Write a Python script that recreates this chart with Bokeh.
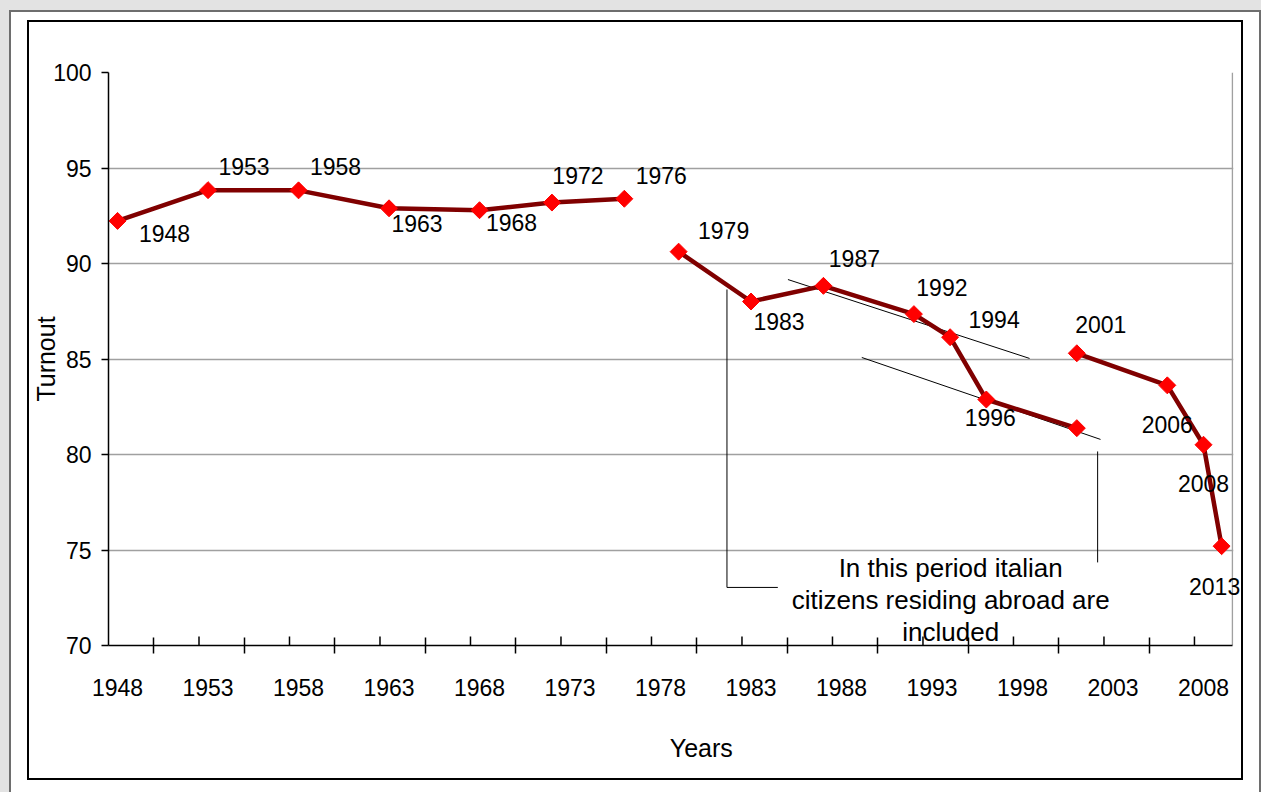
import math
from bokeh.plotting import figure
from bokeh.models import (ColumnDataSource, LabelSet, Label, BoxAnnotation,
                          FixedTicker, Range1d, LinearAxis)
from bokeh.core.properties import value
from bokeh.embed import file_html
from bokeh.resources import INLINE

# ---------------- data ----------------
# Series 1: 1948-1976
x_pos_1 = [1948, 1953, 1958, 1963, 1968, 1972, 1976]
turnout_1 = [92.23, 93.84, 93.83, 92.89, 92.79, 93.19, 93.39]
labels_1 = ["1948", "1953", "1958", "1963", "1968", "1972", "1976"]

# Series 2: 1979-2001
x_pos_2 = [1979, 1983, 1987, 1992, 1994, 1996, 2001]
turnout_2 = [90.62, 88.01, 88.83, 87.35, 86.14, 82.88, 81.38]
labels_2 = ["1979", "1983", "1987", "1992", "1994", "1996", ""]

# Series 3: 2001-2013 (the 2013 election sits in the chart's last slot)
x_pos_3 = [2001, 2006, 2008, 2009]
turnout_3 = [85.3, 83.62, 80.51, 75.2]
labels_3 = ["2001", "2006", "2008", "2013"]

# axis ticks
x_label_ticks = [1948, 1953, 1958, 1963, 1968, 1973, 1978, 1983, 1988, 1993, 1998, 2003, 2008]
x_cross_ticks = [1950, 1955, 1960, 1965, 1970, 1975, 1980, 1985, 1990, 1995, 2000, 2005]
x_inner_ticks = [1952.5, 1957.5, 1962.5, 1967.5, 1972.5, 1977.5, 1982.5, 1987.5,
                 1992.5, 1997.5, 2002.5, 2007.5]
y_ticks = [70, 75, 80, 85, 90, 95, 100]

note_lines = ["In this period italian", "citizens residing abroad are", "included"]

# ---------------- style / layout ----------------
FONT = "Liberation Sans"
NUM_SIZE = "23px"
LINE_COLOR = "#800000"
MARK_COLOR = "#ff0000"
X_START, X_AXIS_END, X_END = 1947.5, 2009.6, 2010.32
Y_MIN, Y_MAX = 70, 100
INNER_TICK_LEN = 0.47   # in turnout units (about 9 px)
YEARS_TITLE_SPAN = (1951.08, 2009.6)
YEARS_PAD = "\u00a0" * 7   # nudges the centred "Years" title to the right

# label offsets in screen px (dx right, dy down) for each series point
dxdy_1 = [(47, 13), (36, -24), (37, -24), (28, 15), (32, 12), (26, -27), (37, -23)]
dxdy_2 = [(45, -21), (28, 20), (31, -27), (28, -27), (44, -18), (4, 18), (0, 0)]
dxdy_3 = [(24, -29), (0, 39), (0, 39), (-7, 40)]

p = figure(width=1216, height=760, output_backend="svg", toolbar_location=None,
           x_range=Range1d(X_START, X_END), y_range=Range1d(Y_MIN, Y_MAX),
           min_border_left=78, min_border_right=0, min_border_top=50,
           min_border_bottom=137, background_fill_color="white",
           border_fill_color="white", outline_line_color=None,
           margin=(20, 0, 0, 27))
p.styles = {"border": "2px solid black",
            "box-shadow": "0px 8px 0 16px #ffffff, 0px 8px 0 18px #6e6e6e, -3px 4px 0 24px #e3e3e3"}

# grid (horizontal lines + right-hand plot-area border)
p.ygrid.ticker = FixedTicker(ticks=y_ticks)
p.ygrid.grid_line_color = "#a0a0a0"
p.ygrid.grid_line_width = 1.5
p.xgrid.ticker = FixedTicker(ticks=[X_AXIS_END])
p.xgrid.grid_line_color = "#a0a0a0"
p.xgrid.grid_line_width = 1.5
# blank strip right of the plot-area border (room for the last label)
p.add_layout(BoxAnnotation(left=X_AXIS_END + 0.045, right=X_END,
                           fill_color="white", fill_alpha=1.0,
                           line_color=None, level="underlay"))

# y axis
ya = p.yaxis[0]
ya.ticker = FixedTicker(ticks=y_ticks)
ya.major_tick_out = 7
ya.major_tick_in = 0
ya.minor_tick_out = 0
ya.minor_tick_in = 0
ya.axis_line_color = "black"
ya.axis_line_width = 1.5
ya.major_tick_line_color = "black"
ya.major_tick_line_width = 1.5
ya.major_label_text_font = FONT
ya.major_label_text_font_size = NUM_SIZE
ya.major_label_text_color = "black"
ya.major_label_standoff = 10
ya.axis_label = "Turnout"
ya.axis_label_text_font = FONT
ya.axis_label_text_font_size = "25px"
ya.axis_label_text_font_style = "normal"
ya.axis_label_text_color = "black"
ya.axis_label_standoff = -10

# x axis: year labels (no mark), crossing ticks as minor ticks
xa = p.xaxis[0]
xa.ticker = FixedTicker(ticks=x_label_ticks, minor_ticks=x_cross_ticks)
xa.bounds = (X_START, X_AXIS_END)
xa.axis_line_color = "black"
xa.axis_line_width = 1.5
xa.major_tick_in = 0
xa.major_tick_out = 0
xa.major_tick_line_color = None
xa.minor_tick_in = 8
xa.minor_tick_out = 8
xa.minor_tick_line_color = "black"
xa.minor_tick_line_width = 1.5
xa.major_label_text_font = FONT
xa.major_label_text_font_size = NUM_SIZE
xa.major_label_text_color = "black"
xa.major_label_standoff = 25

# x axis title on a bare axis
xt = LinearAxis(ticker=FixedTicker(ticks=[]), bounds=YEARS_TITLE_SPAN,
                axis_line_color=None, major_tick_line_color=None,
                minor_tick_line_color=None, major_tick_in=0, major_tick_out=0,
                minor_tick_in=0, minor_tick_out=0, major_label_standoff=0,
                axis_label=YEARS_PAD + "Years", axis_label_text_font=FONT,
                axis_label_text_font_size="25px",
                axis_label_text_font_style="normal",
                axis_label_text_color="black", axis_label_standoff=35)
p.add_layout(xt, "below")

# short upward tick marks between the crossing ticks
p.segment(x0=x_inner_ticks, x1=x_inner_ticks, y0=Y_MIN, y1=Y_MIN + INNER_TICK_LEN,
          line_color="black", line_width=1.5)

# annotation lines (data coordinates)
p.line([1985.04, 1998.39], [89.16, 85.03], line_color="black", line_width=1)
p.line([1989.12, 2002.31], [85.08, 80.79], line_color="black", line_width=1)
p.line([1981.67, 1981.67, 1984.48], [88.64, 73.04, 73.04], line_color="black", line_width=1)
p.line([2002.15, 2002.15], [80.16, 74.35], line_color="black", line_width=1)

# series
for xs, ys, labs, offs in [(x_pos_1, turnout_1, labels_1, dxdy_1),
                           (x_pos_2, turnout_2, labels_2, dxdy_2),
                           (x_pos_3, turnout_3, labels_3, dxdy_3)]:
    src = ColumnDataSource(dict(x=xs, y=ys, t=labs,
                                xo=[o[0] for o in offs],
                                yo=[-o[1] for o in offs]))
    p.line("x", "y", source=src, line_color=LINE_COLOR, line_width=4.5)
    p.scatter("x", "y", source=src, marker="square", size=12, angle=math.pi / 4,
              fill_color=MARK_COLOR, line_color=MARK_COLOR)
    p.add_layout(LabelSet(x="x", y="y", text="t", source=src, x_offset="xo",
                          y_offset="yo", text_align="center",
                          text_baseline="middle", text_font=value(FONT),
                          text_font_size=NUM_SIZE, text_color="black"))

# note text
for txt, yy in zip(note_lines, [74.08, 72.36, 70.73]):
    p.add_layout(Label(x=1994.03, y=yy, text=txt, text_align="center",
                       text_baseline="middle", text_font=FONT,
                       text_font_size="26px", text_color="black"))

open("out.html", "w").write(file_html(p, INLINE))
